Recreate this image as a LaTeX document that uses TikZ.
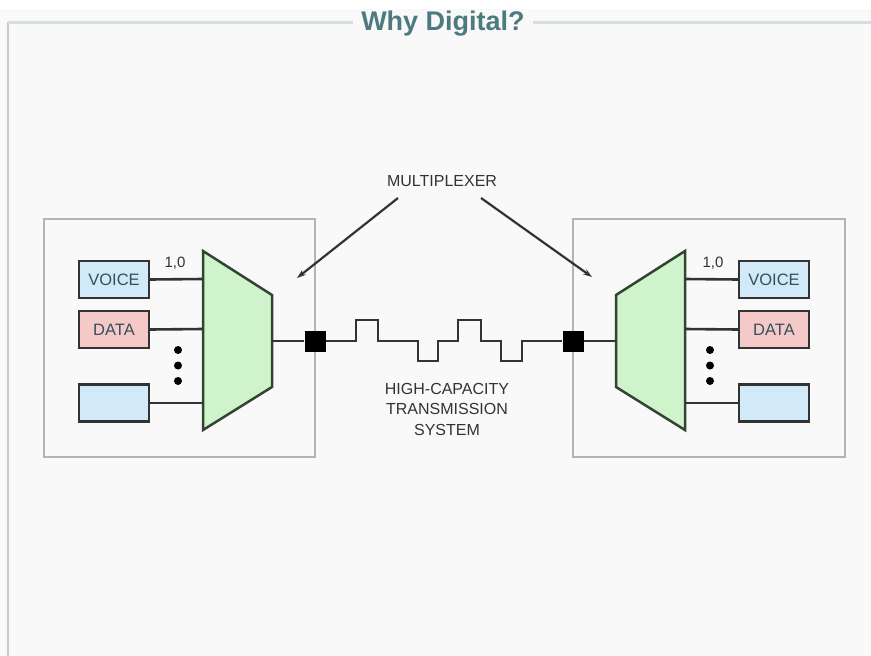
\documentclass[tikz,border=0pt]{standalone}
\usepackage{fontspec}
\setmainfont{Liberation Sans}
\usetikzlibrary{arrows.meta}
\definecolor{pagebg}{HTML}{F9F9F9}
\definecolor{rulec}{HTML}{D3DFE3}
\definecolor{edgec}{HTML}{C8C8C8}
\definecolor{titlec}{HTML}{4D7A80}
\definecolor{inkc}{HTML}{333333}
\definecolor{boxtext}{HTML}{34505C}
\definecolor{voicefill}{HTML}{D2E9F8}
\definecolor{datafill}{HTML}{F6C9C9}
\definecolor{muxfill}{HTML}{CFF3CB}
\definecolor{muxline}{HTML}{334433}
\definecolor{panelc}{HTML}{B4B4B4}
\tikzset{
  chanbox/.style={draw=inkc, line width=2.3pt, minimum width=70pt, minimum height=37pt,
    inner sep=0pt, font=\fontsize{16.5}{18}\selectfont, text=boxtext},
  wire/.style={draw=inkc, line width=2.6pt},
  panel/.style={draw=panelc, line width=1.6pt},
  mux/.style={draw=muxline, line width=2.5pt, fill=muxfill, line join=miter},
  plug/.style={fill=black, minimum size=21pt, inner sep=0pt},
  lbl/.style={font=\fontsize{16}{19}\selectfont, text=inkc, align=center},
  pointer/.style={draw=inkc, line width=2.2pt, -{Stealth[length=9pt,width=6pt]}},
  dotc/.style={fill=black}
}
\begin{document}
\begin{tikzpicture}[x=1pt,y=-1pt]
\useasboundingbox (0,0) rectangle (871,656);
% page background and header rule
\fill[pagebg] (0,0) rectangle (871,656);
\fill[white] (0,0) rectangle (871,9);
\draw[edgec, line width=2.2pt] (8,22) -- (8,656);
\node[font=\bfseries\fontsize{27}{30}\selectfont, text=titlec, inner xsep=8pt] (title) at (443,23.5) {Why Digital?};
\draw[rulec, line width=3pt] (8,22) -- (title.west |- 0,22);
\draw[rulec, line width=3pt] (title.east |- 0,22) -- (871,22);

% panels
\draw[panel] (44,219) rectangle (315,457);
\draw[panel] (573,219) rectangle (845,457);

% ---- left multiplexer ----
\draw[mux] (203,251) -- (272,295) -- (272,387) -- (203,430) -- cycle;
\coordinate (lin1) at (203,279);
\coordinate (lin2) at (203,329);
\coordinate (lin3) at (203,403);
\coordinate (lout) at (272,341);
\node[chanbox, fill=voicefill] (lv) at (114,279.5) {VOICE};
\node[chanbox, fill=datafill] (ld) at (114,329.5) {DATA};
\node[chanbox, fill=voicefill] (lb) at (114,403) {};
\draw[wire] (lv.east) -- (lin1);
\draw[wire] (ld.east) -- (lin2);
\draw[wire] (lb.east) -- (lin3);
\node[lbl, font=\fontsize{15}{17}\selectfont] (lbit) at (175,263) {1,0};
\fill[dotc] (178,350) circle (4pt) (178,365.5) circle (4pt) (178,381) circle (4pt);

% ---- right multiplexer ----
\draw[mux] (685,251) -- (616,295) -- (616,387) -- (685,430) -- cycle;
\coordinate (rin1) at (685,279);
\coordinate (rin2) at (685,329);
\coordinate (rin3) at (685,403);
\coordinate (rout) at (616,341);
\node[chanbox, fill=voicefill] (rv) at (774,279.5) {VOICE};
\node[chanbox, fill=datafill] (rd) at (774,329.5) {DATA};
\node[chanbox, fill=voicefill] (rb) at (774,403) {};
\draw[wire] (rin1) -- (rv.west);
\draw[wire] (rin2) -- (rd.west);
\draw[wire] (rin3) -- (rb.west);
\node[lbl, font=\fontsize{15}{17}\selectfont] (rbit) at (713,263) {1,0};
\fill[dotc] (710,350) circle (4pt) (710,365.5) circle (4pt) (710,381) circle (4pt);

% ---- transmission link ----
\node[plug] (sql) at (315,341) {};
\node[plug] (sqr) at (573,341) {};
\draw[wire] (lout) -- (sql.west);
\draw[wire] (sqr.east) -- (rout);
\draw[wire, line join=miter] (sql.east) -- (356,341) -- (356,320) -- (378,320) -- (378,341)
  -- (418,341) -- (418,361) -- (438,361) -- (438,341)
  -- (458,341) -- (458,320) -- (481,320) -- (481,341)
  -- (501,341) -- (501,361) -- (522,361) -- (522,341) -- (sqr.west);

% ---- labels ----
\node[lbl] (muxlbl) at (442,181) {MULTIPLEXER};
\coordinate (tipl) at (297,278);
\coordinate (tipr) at (592,277);
\coordinate (froml) at (398,198);
\coordinate (fromr) at (481,198);
\draw[pointer] (froml) -- (tipl);
\draw[pointer] (fromr) -- (tipr);
\node[lbl, font=\fontsize{16}{20.5}\selectfont] (link) at (447,409) {HIGH-CAPACITY\\TRANSMISSION\\SYSTEM};
\end{tikzpicture}
\end{document}
